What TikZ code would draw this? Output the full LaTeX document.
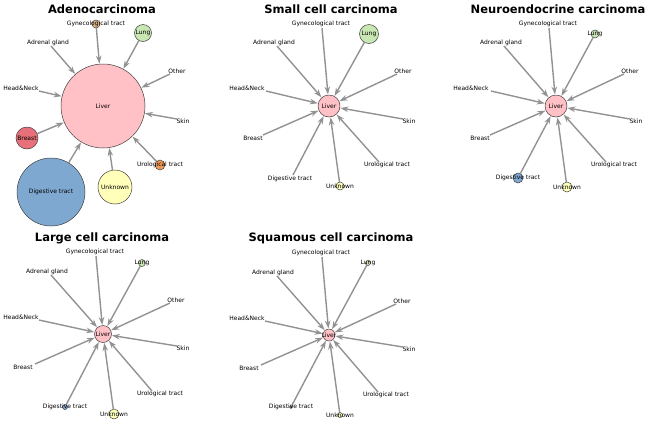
\documentclass[tikz,border=0pt]{standalone}
\usepackage{fontspec}
\setmainfont{DejaVu Sans}
\usetikzlibrary{arrows.meta}
\definecolor{liverc}{HTML}{FFC0C6}
\definecolor{breastc}{HTML}{E8707A}
\definecolor{digc}{HTML}{7FA8D0}
\definecolor{unkc}{HTML}{FFFFBA}
\definecolor{lungc}{HTML}{C9E7B2}
\definecolor{gync}{HTML}{E6B681}
\definecolor{uroc}{HTML}{F29A5A}
\definecolor{arrc}{HTML}{929292}
\tikzset{
  srcnode/.style={circle, draw=black!75, line width=0.5pt, inner sep=0pt, outer sep=0pt},
  livernode/.style={circle, draw=black!75, line width=0.5pt, fill=liverc, inner sep=0pt, outer sep=0pt},
  lbl/.style={font=\fontsize{6}{7}\selectfont, inner sep=0pt, text=black},
  ttl/.style={font=\bfseries\fontsize{11.5}{13}\selectfont, inner sep=0pt},
  arr/.style={draw=arrc, line width=1.4pt, -{Stealth[length=8pt,width=5.5pt]}, shorten >=0.5pt}
}
\newcommand\src[6]{%
  \ifdim #4pt>0pt
    \node[srcnode, fill=#5, minimum size=#4pt*2] (#1) at (#2) {};
  \else
    \coordinate (#1) at (#3);
  \fi
  \draw[arr] (#1) -- (liver);
  \node[lbl] (#1-t) at (#2) {#6};
}
\begin{document}
\begin{tikzpicture}[x=1pt, y=-1pt]
\useasboundingbox (0,0) rectangle (648,424);

% titles
\node[ttl] (t1) at (102,9) {Adenocarcinoma};
\node[ttl] (t2) at (331,9) {Small cell carcinoma};
\node[ttl] (t3) at (558,9) {Neuroendocrine carcinoma};
\node[ttl] (t4) at (102,238) {Large cell carcinoma};
\node[ttl] (t5) at (331,238) {Squamous cell carcinoma};

% Panel 1
\begin{scope}[shift={(103,106)}, name prefix=a-]
\node[livernode, minimum size=84pt] (liver) at (0,0) {};
\src{gyn}{-7,-82}{-7,-78}{4}{gync}{Gynecological tract}
\src{lung}{40,-73}{0,0}{8.5}{lungc}{Lung}
\src{adr}{-55,-63}{-52,-60}{0}{white}{Adrenal gland}
\src{oth}{74,-35}{67,-32}{0}{white}{Other}
\src{head}{-82,-18}{-64,-15}{0}{white}{Head\&Neck}
\src{skin}{80,15}{74,13}{0}{white}{Skin}
\src{br}{-76,32}{0,0}{11}{breastc}{Breast}
\src{uro}{57,59}{0,0}{5}{uroc}{Urological tract}
\src{dig}{-52,86}{0,0}{34}{digc}{Digestive tract}
\src{unk}{12,81}{0,0}{17}{unkc}{Unknown}
\node[lbl] (lv-t) at (0,0) {Liver};
\end{scope}

% Panel 2
\begin{scope}[shift={(329,106)}, name prefix=b-]
\node[livernode, minimum size=22pt] (liver) at (0,0) {};
\src{gyn}{-8,-82}{-7,-78}{0}{white}{Gynecological tract}
\src{lung}{40,-72}{0,0}{9.5}{lungc}{Lung}
\src{adr}{-55,-63}{-52,-60}{0}{white}{Adrenal gland}
\src{oth}{74,-35}{68,-32}{0}{white}{Other}
\src{head}{-82,-18}{-63,-15}{0}{white}{Head\&Neck}
\src{skin}{80,15}{74,13}{0}{white}{Skin}
\src{br}{-76,32}{-66,29}{0}{white}{Breast}
\src{uro}{58,59}{50,56}{0}{white}{Urological tract}
\src{dig}{-39,73}{-36,69}{0}{white}{Digestive tract}
\src{unk}{11,80}{0,0}{4}{unkc}{Unknown}
\node[lbl] (lv-t) at (0,0) {Liver};
\end{scope}

% Panel 3
\begin{scope}[shift={(556,106)}, name prefix=c-]
\node[livernode, minimum size=22pt] (liver) at (0,0) {};
\src{gyn}{-8,-82}{-7,-78}{0}{white}{Gynecological tract}
\src{lung}{39,-72}{0,0}{4}{lungc}{Lung}
\src{adr}{-55,-63}{-52,-60}{0}{white}{Adrenal gland}
\src{oth}{74,-35}{68,-32}{0}{white}{Other}
\src{head}{-85,-18}{-65,-15}{0}{white}{Head\&Neck}
\src{skin}{80,15}{74,13}{0}{white}{Skin}
\src{br}{-76,32}{-66,29}{0}{white}{Breast}
\src{uro}{58,59}{50,56}{0}{white}{Urological tract}
\src{dig}{-38,72}{0,0}{5}{digc}{Digestive tract}
\src{unk}{11,81}{0,0}{5}{unkc}{Unknown}
\node[lbl] (lv-t) at (0,0) {Liver};
\end{scope}

% Panel 4
\begin{scope}[shift={(103,334)}, name prefix=d-]
\node[livernode, minimum size=17pt] (liver) at (0,0) {};
\src{gyn}{-8,-82}{-7,-78}{0}{white}{Gynecological tract}
\src{lung}{39,-71}{0,0}{3.5}{lungc}{Lung}
\src{adr}{-56,-62}{-52,-59}{0}{white}{Adrenal gland}
\src{oth}{73,-34}{67,-31}{0}{white}{Other}
\src{head}{-82,-17}{-64,-14}{0}{white}{Head\&Neck}
\src{skin}{80,14}{74,12}{0}{white}{Skin}
\src{br}{-80,33}{-68,30}{0}{white}{Breast}
\src{uro}{57,60}{49,57}{0}{white}{Urological tract}
\src{dig}{-38,73}{0,0}{2.5}{digc}{Digestive tract}
\src{unk}{11,80}{0,0}{5}{unkc}{Unknown}
\node[lbl] (lv-t) at (0,0) {Liver};
\end{scope}

% Panel 5
\begin{scope}[shift={(329,335)}, name prefix=e-]
\node[livernode, minimum size=12pt] (liver) at (0,0) {};
\src{gyn}{-8,-82}{-7,-78}{0}{white}{Gynecological tract}
\src{lung}{39,-72}{0,0}{2.5}{lungc}{Lung}
\src{adr}{-56,-62}{-52,-59}{0}{white}{Adrenal gland}
\src{oth}{73,-34}{67,-31}{0}{white}{Other}
\src{head}{-82,-17}{-64,-14}{0}{white}{Head\&Neck}
\src{skin}{80,14}{74,12}{0}{white}{Skin}
\src{br}{-80,33}{-68,30}{0}{white}{Breast}
\src{uro}{57,60}{49,57}{0}{white}{Urological tract}
\src{dig}{-38,72}{0,0}{1.5}{digc}{Digestive tract}
\src{unk}{11,80}{0,0}{2.5}{unkc}{Unknown}
\node[lbl] (lv-t) at (0,0) {Liver};
\end{scope}
\end{tikzpicture}
\end{document}
